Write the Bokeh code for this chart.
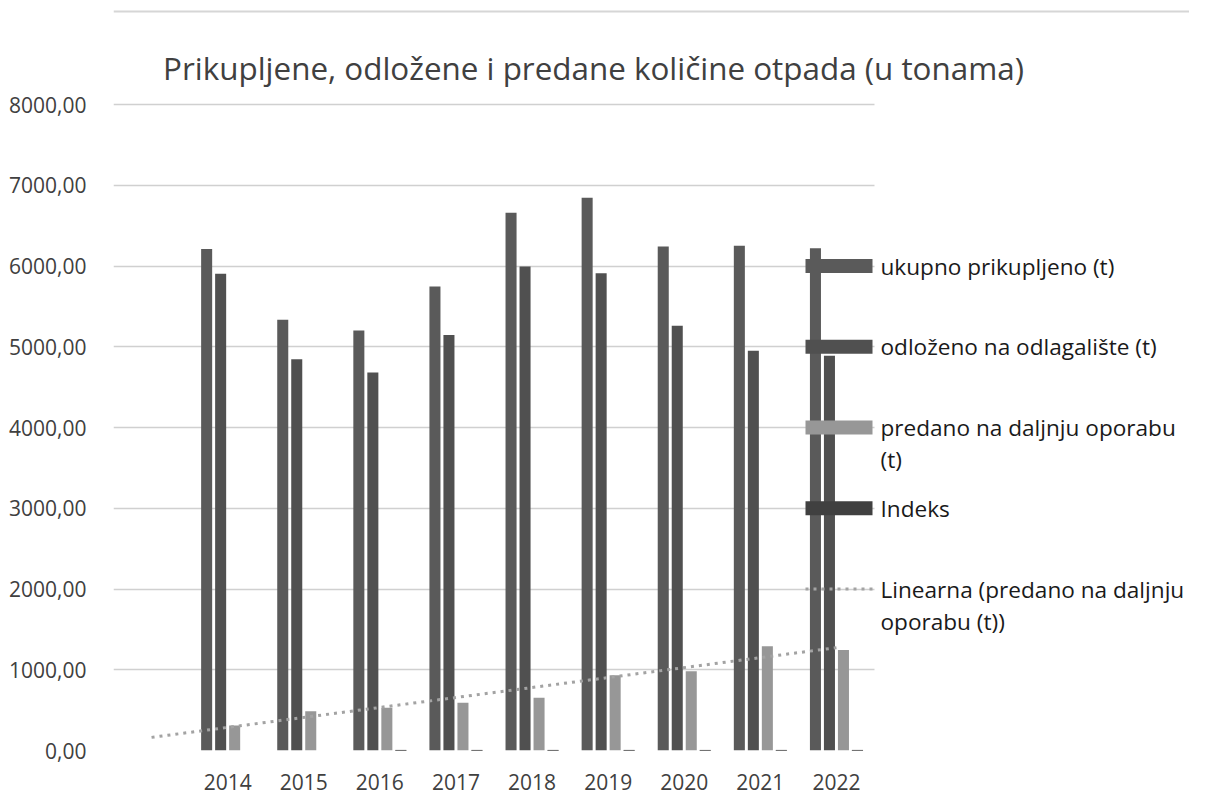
import numpy as np
from bokeh.plotting import figure
from bokeh.models import Range1d, FixedTicker, Label, BoxAnnotation
from bokeh.embed import file_html
from bokeh.resources import INLINE

# ---------------- data ----------------
years = ["2014", "2015", "2016", "2017", "2018", "2019", "2020", "2021", "2022"]
ukupno = [6210, 5335, 5200, 5745, 6660, 6845, 6240, 6250, 6220]
odlozeno = [5905, 4845, 4680, 5145, 5995, 5910, 5260, 4950, 4890]
predano = [310, 485, 530, 590, 652, 932, 982, 1292, 1245]
indeks = [float("nan"), float("nan"), 0.97, 1.10, 1.16, 1.03, 0.91, 1.00, 0.99]
y_ticks = [0, 1000, 2000, 3000, 4000, 5000, 6000, 7000, 8000]
y_tick_labels = ["0,00", "1000,00", "2000,00", "3000,00", "4000,00",
                 "5000,00", "6000,00", "7000,00", "8000,00"]
title_text = "Prikupljene, odložene i predane količine otpada (u tonama)"

FONT = "Open Sans"
C1, C2, C3, C4 = "#5a5a5a", "#505050", "#979797", "#404040"
TREND = "#a3a3a3"

# first category slot is empty (as in the source chart)
pos = np.arange(len(years)) + 2.0

W, H = 1189, 795
BL, BB = 113, 45
PXU = 76.1                    # pixels per category
PXY = 646.0 / 8000            # pixels per tonne
frame_w = W - BL
frame_h = H - BB
x_end = 0.5 + frame_w / PXU
y_end = frame_h / PXY

p = figure(width=W, height=H, x_range=Range1d(0.5, x_end), y_range=Range1d(0, y_end),
           output_backend="svg", toolbar_location=None,
           min_border_left=BL, min_border_right=0, min_border_top=0, min_border_bottom=BB)
p.outline_line_color = None
p.background_fill_color = "white"
p.border_fill_color = "white"

# axes / grid
p.xgrid.grid_line_color = None
p.ygrid.grid_line_color = "#d0d0d0"
p.ygrid.grid_line_width = 1.3
p.ygrid.cross_bounds = (0.5, 10.5)
p.yaxis.ticker = FixedTicker(ticks=y_ticks)
p.yaxis.major_label_overrides = {t: l for t, l in zip(y_ticks, y_tick_labels)}
p.xaxis.ticker = FixedTicker(ticks=list(pos))
p.xaxis.major_label_overrides = {float(x): y for x, y in zip(pos, years)}
for ax in (p.xaxis[0], p.yaxis[0]):
    ax.axis_line_color = None
    ax.major_tick_line_color = None
    ax.minor_tick_line_color = None
    ax.major_label_text_font = FONT
    ax.major_label_text_font_size = "21px"
    ax.major_label_text_color = "#404040"
p.yaxis.major_label_standoff = 21
p.xaxis.major_label_standoff = 17

# bars
bw = 0.145
p.vbar(x=pos - 0.276, width=bw, top=ukupno, bottom=0, fill_color=C1, line_color=None)
p.vbar(x=pos - 0.092, width=bw, top=odlozeno, bottom=0, fill_color=C2, line_color=None)
p.vbar(x=pos + 0.092, width=bw, top=predano, bottom=0, fill_color=C3, line_color=None)
p.vbar(x=pos + 0.276, width=bw, top=indeks, bottom=0, fill_color=C4, line_color=C4, line_width=1)

# linear trendline of "predano" (spans from the empty first slot to the last category)
slope, intercept = np.polyfit(pos, predano, 1)
tx = np.array([1.0, pos[-1]])
p.line(tx, slope * tx + intercept, line_color=TREND, line_width=3, line_dash="3 5")

# title
p.add_layout(Label(x=0.5 + 480 / PXU, y=8000 + 37 / PXY, text=title_text, text_align="center",
                   text_baseline="alphabetic", text_font=FONT,
                   text_font_size="31.4px", text_color="#404040"))

# chart-area top border line (light gray, as in the source)
p.add_layout(BoxAnnotation(top=y_end - 10 / PXY, bottom=y_end - 12 / PXY,
                           fill_color="#d6d6d6", fill_alpha=1, line_color=None))

# legend (drawn manually, overlapping the plot like the original)
leg_y = [6000, 5000, 4000, 3000, 2000]
colors = [C1, C2, C3, C4]
sw_l, sw_r, txt_x = 0.5 + 692 / PXU, 0.5 + 759 / PXU, 0.5 + 767 / PXU
half = 7 / PXY
line_gap = 32 / PXY
labels_lines = [["ukupno prikupljeno (t)"], ["odloženo na odlagalište (t)"],
                ["predano na daljnju oporabu", "(t)"], ["Indeks"],
                ["Linearna (predano na daljnju", "oporabu (t))"]]
for i, yv in enumerate(leg_y):
    if i < 4:
        p.add_layout(BoxAnnotation(left=sw_l, right=sw_r, bottom=yv - half, top=yv + half,
                                   fill_color=colors[i], fill_alpha=1, line_color=None,
                                   level="overlay"))
    else:
        p.line([sw_l, sw_r], [yv, yv], line_color=TREND, line_width=3, line_dash="3 5")
    for j, t in enumerate(labels_lines[i]):
        p.add_layout(Label(x=txt_x, y=yv - j * line_gap, text=t, text_align="left",
                           text_baseline="middle", text_font=FONT,
                           text_font_size="22.6px", text_color="#1a1a1a"))

open("out.html", "w").write(file_html(p, INLINE))
